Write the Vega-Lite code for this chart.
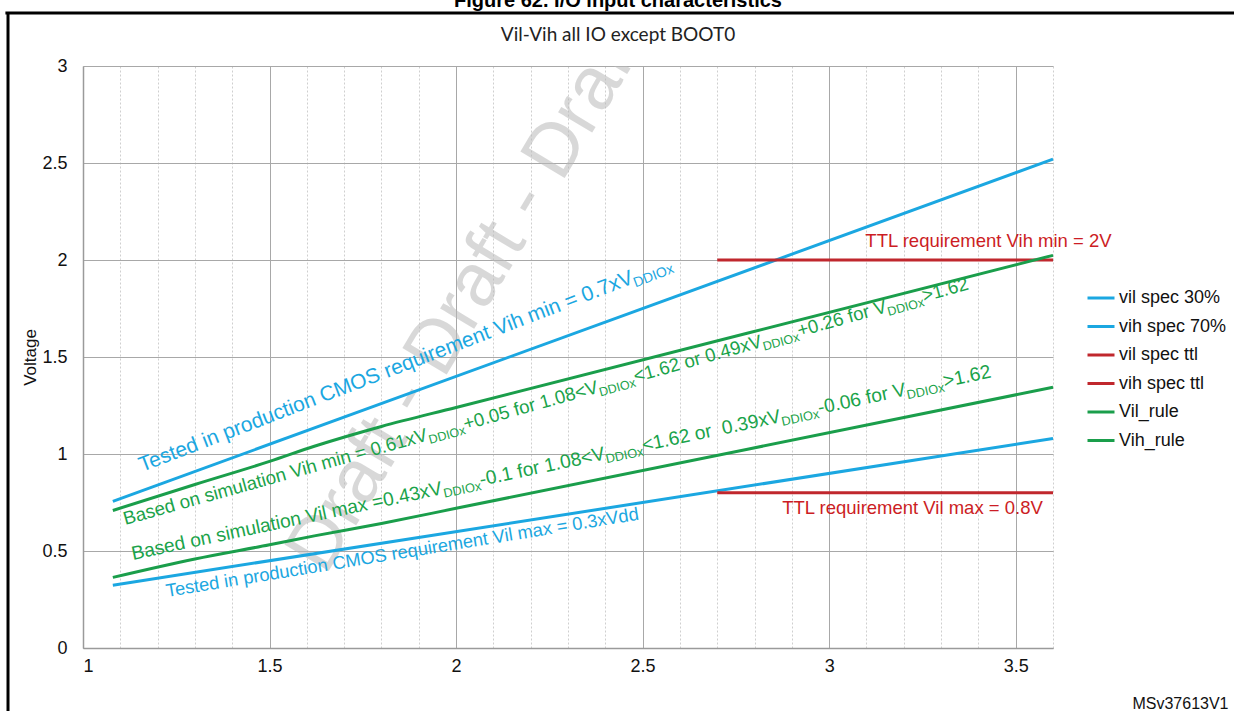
{
  "$schema": "https://vega.github.io/schema/vega-lite/v6.json",
  "autosize": {"type": "none"},
  "width": 970,
  "height": 582,
  "padding": {"left": 83, "top": 66, "right": 181, "bottom": 63},
  "background": "white",
  "title": {
    "text": "Figure 62. I/O input characteristics",
    "subtitle": "Vil-Vih all IO except BOOT0",
    "anchor": "middle",
    "dx": 50,
    "dy": 33,
    "offset": 0,
    "font": "Liberation Sans",
    "fontSize": 20,
    "fontWeight": "bold",
    "color": "#000000",
    "subtitleFont": "Lato",
    "subtitleFontSize": 19,
    "subtitleColor": "#222222",
    "subtitlePadding": 15
  },
  "config": {
    "view": {"stroke": null},
    "font": "Liberation Sans"
  },
  "resolve": {"axis": {"x": "independent"}},
  "datasets": {
    "lines": [
      {"series": "vil spec 30%", "v": 1.08, "volt": 0.324},
      {"series": "vil spec 30%", "v": 3.6, "volt": 1.08},
      {"series": "vih spec 70%", "v": 1.08, "volt": 0.756},
      {"series": "vih spec 70%", "v": 3.6, "volt": 2.52},
      {"series": "vil spec ttl", "v": 2.7, "volt": 0.8},
      {"series": "vil spec ttl", "v": 3.6, "volt": 0.8},
      {"series": "vih spec ttl", "v": 2.7, "volt": 2.0},
      {"series": "vih spec ttl", "v": 3.6, "volt": 2.0},
      {"series": "Vil_rule", "v": 1.08, "volt": 0.364},
      {"series": "Vil_rule", "v": 1.3, "volt": 0.459},
      {"series": "Vil_rule", "v": 1.5, "volt": 0.532},
      {"series": "Vil_rule", "v": 1.62, "volt": 0.578},
      {"series": "Vil_rule", "v": 1.8, "volt": 0.642},
      {"series": "Vil_rule", "v": 2.0, "volt": 0.72},
      {"series": "Vil_rule", "v": 3.6, "volt": 1.344},
      {"series": "Vih_rule", "v": 1.08, "volt": 0.709},
      {"series": "Vih_rule", "v": 1.3, "volt": 0.843},
      {"series": "Vih_rule", "v": 1.5, "volt": 0.962},
      {"series": "Vih_rule", "v": 1.62, "volt": 1.04},
      {"series": "Vih_rule", "v": 1.8, "volt": 1.142},
      {"series": "Vih_rule", "v": 2.0, "volt": 1.24},
      {"series": "Vih_rule", "v": 3.6, "volt": 2.024}
    ]
  },
  "layer": [
    {
      "data": {"values": [{"v": 1.65, "volt": 0.37, "label": "Draft - Draft - Draft - Draft"}]},
      "mark": {"type": "text", "angle": -59, "align": "left", "baseline": "alphabetic", "fontSize": 75, "color": "#bababa", "opacity": 0.55, "clip": true},
      "encoding": {
        "x": {
          "field": "v",
          "type": "quantitative",
          "scale": {"domain": [1, 3.6], "nice": false, "zero": false},
          "axis": {
            "orient": "bottom",
            "values": [1.1, 1.2, 1.3, 1.4, 1.6, 1.7, 1.8, 1.9, 2.1, 2.2, 2.3, 2.4, 2.6, 2.7, 2.8, 2.9, 3.1, 3.2, 3.3, 3.4, 3.6],
            "labels": false,
            "ticks": false,
            "domain": false,
            "grid": true,
            "gridColor": "#cfcfcf",
            "gridDash": [2, 2],
            "gridWidth": 1,
            "title": null
          }
        },
        "y": {"field": "volt", "type": "quantitative"},
        "text": {"field": "label"}
      }
    },
    {
      "data": {"name": "lines"},
      "mark": {"type": "line", "strokeWidth": 3, "strokeCap": "butt", "interpolate": "monotone"},
      "encoding": {
        "x": {
          "field": "v",
          "type": "quantitative",
          "axis": {
            "orient": "bottom",
            "values": [1, 1.5, 2, 2.5, 3, 3.5],
            "format": "~g",
            "labelOverlap": false,
            "labelFlush": false,
            "labelAlign": {"condition": {"test": "datum.value == 1", "value": "left"}, "value": "center"},
            "labelFontSize": 18,
            "labelColor": "#111111",
            "labelPadding": 9,
            "ticks": false,
            "domain": true,
            "domainColor": "#9a9a9a",
            "domainWidth": 1.5,
            "grid": true,
            "gridColor": "#a8a8a8",
            "gridWidth": 1,
            "title": "MSv37613V1",
            "titleFontSize": 16,
            "titleFontWeight": "normal",
            "titleColor": "#111111",
            "titleX": 1145,
            "titleY": 55,
            "titleAlign": "right",
            "titleBaseline": "middle"
          }
        },
        "y": {
          "field": "volt",
          "type": "quantitative",
          "scale": {"domain": [0, 3], "nice": false},
          "axis": {
            "values": [0, 0.5, 1, 1.5, 2, 2.5, 3],
            "format": "~g",
            "labelFontSize": 18,
            "labelColor": "#111111",
            "labelPadding": 16,
            "labelFlush": false,
            "ticks": false,
            "domain": true,
            "domainColor": "#9a9a9a",
            "domainWidth": 1.5,
            "grid": true,
            "gridColor": "#a8a8a8",
            "gridWidth": 1,
            "title": "Voltage",
            "titleFontSize": 17,
            "titleFontWeight": "normal",
            "titleColor": "#111111",
            "titleX": -44,
            "titleY": 291,
            "titleAngle": -90
          }
        },
        "color": {
          "field": "series",
          "type": "nominal",
          "scale": {
            "domain": ["vil spec 30%", "vih spec 70%", "vil spec ttl", "vih spec ttl", "Vil_rule", "Vih_rule"],
            "range": ["#1ba7e1", "#1ba7e1", "#c0272d", "#c0272d", "#1a9e4b", "#1a9e4b"]
          },
          "legend": {
            "orient": "none",
            "legendX": 1003,
            "legendY": 217,
            "title": null,
            "symbolType": "stroke",
            "symbolSize": 729,
            "symbolStrokeWidth": 3,
            "labelFontSize": 18,
            "labelColor": "#111111",
            "labelOffset": 3,
            "rowPadding": 4.5,
            "padding": 0
          }
        },
        "detail": {"field": "series"}
      }
    },
    {
      "data": {"values": [{"v": 1.158, "volt": 0.907, "label": "Tested in production CMOS requirement Vih min = 0.7xV"}]},
      "mark": {"type": "text", "angle": -21, "align": "left", "baseline": "alphabetic", "fontSize": 21, "color": "#1ba7e1"},
      "encoding": {"x": {"field": "v", "type": "quantitative", "axis": null}, "y": {"field": "volt", "type": "quantitative"}, "text": {"field": "label"}}
    },
    {
      "data": {"values": [{"v": 1.158, "volt": 0.907, "label": "DDIOx"}]},
      "mark": {"type": "text", "angle": -21, "align": "left", "baseline": "alphabetic", "fontSize": 14, "dx": 527, "dy": 4.5, "color": "#1ba7e1"},
      "encoding": {"x": {"field": "v", "type": "quantitative", "axis": null}, "y": {"field": "volt", "type": "quantitative"}, "text": {"field": "label"}}
    },
    {
      "data": {"values": [{"v": 1.113, "volt": 0.634, "label": "Based on simulation Vih min = 0.61xV"}]},
      "mark": {"type": "text", "angle": -15.6, "align": "left", "baseline": "alphabetic", "fontSize": 18.7, "color": "#1aa34a"},
      "encoding": {"x": {"field": "v", "type": "quantitative", "axis": null}, "y": {"field": "volt", "type": "quantitative"}, "text": {"field": "label"}}
    },
    {
      "data": {"values": [{"v": 1.113, "volt": 0.634, "label": "DDIOx"}]},
      "mark": {"type": "text", "angle": -15.6, "align": "left", "baseline": "alphabetic", "fontSize": 12.5, "dx": 315.5, "dy": 4, "color": "#1aa34a"},
      "encoding": {"x": {"field": "v", "type": "quantitative", "axis": null}, "y": {"field": "volt", "type": "quantitative"}, "text": {"field": "label"}}
    },
    {
      "data": {"values": [{"v": 1.113, "volt": 0.634, "label": "+0.05 for 1.08<V"}]},
      "mark": {"type": "text", "angle": -15.6, "align": "left", "baseline": "alphabetic", "fontSize": 18.7, "dx": 353, "color": "#1aa34a"},
      "encoding": {"x": {"field": "v", "type": "quantitative", "axis": null}, "y": {"field": "volt", "type": "quantitative"}, "text": {"field": "label"}}
    },
    {
      "data": {"values": [{"v": 1.113, "volt": 0.634, "label": "DDIOx"}]},
      "mark": {"type": "text", "angle": -15.6, "align": "left", "baseline": "alphabetic", "fontSize": 12.5, "dx": 492.3, "dy": 4, "color": "#1aa34a"},
      "encoding": {"x": {"field": "v", "type": "quantitative", "axis": null}, "y": {"field": "volt", "type": "quantitative"}, "text": {"field": "label"}}
    },
    {
      "data": {"values": [{"v": 1.113, "volt": 0.634, "label": "<1.62 or 0.49xV"}]},
      "mark": {"type": "text", "angle": -15.6, "align": "left", "baseline": "alphabetic", "fontSize": 18.7, "dx": 529.8, "color": "#1aa34a"},
      "encoding": {"x": {"field": "v", "type": "quantitative", "axis": null}, "y": {"field": "volt", "type": "quantitative"}, "text": {"field": "label"}}
    },
    {
      "data": {"values": [{"v": 1.113, "volt": 0.634, "label": "DDIOx"}]},
      "mark": {"type": "text", "angle": -15.6, "align": "left", "baseline": "alphabetic", "fontSize": 12.5, "dx": 662.3, "dy": 4, "color": "#1aa34a"},
      "encoding": {"x": {"field": "v", "type": "quantitative", "axis": null}, "y": {"field": "volt", "type": "quantitative"}, "text": {"field": "label"}}
    },
    {
      "data": {"values": [{"v": 1.113, "volt": 0.634, "label": "+0.26 for V"}]},
      "mark": {"type": "text", "angle": -15.6, "align": "left", "baseline": "alphabetic", "fontSize": 18.7, "dx": 699.8, "color": "#1aa34a"},
      "encoding": {"x": {"field": "v", "type": "quantitative", "axis": null}, "y": {"field": "volt", "type": "quantitative"}, "text": {"field": "label"}}
    },
    {
      "data": {"values": [{"v": 1.113, "volt": 0.634, "label": "DDIOx"}]},
      "mark": {"type": "text", "angle": -15.6, "align": "left", "baseline": "alphabetic", "fontSize": 12.5, "dx": 791.8, "dy": 4, "color": "#1aa34a"},
      "encoding": {"x": {"field": "v", "type": "quantitative", "axis": null}, "y": {"field": "volt", "type": "quantitative"}, "text": {"field": "label"}}
    },
    {
      "data": {"values": [{"v": 1.113, "volt": 0.634, "label": ">1.62"}]},
      "mark": {"type": "text", "angle": -15.6, "align": "left", "baseline": "alphabetic", "fontSize": 18.7, "dx": 829.3, "color": "#1aa34a"},
      "encoding": {"x": {"field": "v", "type": "quantitative", "axis": null}, "y": {"field": "volt", "type": "quantitative"}, "text": {"field": "label"}}
    },
    {
      "data": {"values": [{"v": 1.134, "volt": 0.454, "label": "Based on simulation Vil max =0.43xV"}]},
      "mark": {"type": "text", "angle": -12, "align": "left", "baseline": "alphabetic", "fontSize": 19.2, "color": "#1aa34a"},
      "encoding": {"x": {"field": "v", "type": "quantitative", "axis": null}, "y": {"field": "volt", "type": "quantitative"}, "text": {"field": "label"}}
    },
    {
      "data": {"values": [{"v": 1.134, "volt": 0.454, "label": "DDIOx"}]},
      "mark": {"type": "text", "angle": -12, "align": "left", "baseline": "alphabetic", "fontSize": 12.8, "dx": 317.5, "dy": 4, "color": "#1aa34a"},
      "encoding": {"x": {"field": "v", "type": "quantitative", "axis": null}, "y": {"field": "volt", "type": "quantitative"}, "text": {"field": "label"}}
    },
    {
      "data": {"values": [{"v": 1.134, "volt": 0.454, "label": "-0.1 for 1.08<V"}]},
      "mark": {"type": "text", "angle": -12, "align": "left", "baseline": "alphabetic", "fontSize": 19.2, "dx": 355.9, "color": "#1aa34a"},
      "encoding": {"x": {"field": "v", "type": "quantitative", "axis": null}, "y": {"field": "volt", "type": "quantitative"}, "text": {"field": "label"}}
    },
    {
      "data": {"values": [{"v": 1.134, "volt": 0.454, "label": "DDIOx"}]},
      "mark": {"type": "text", "angle": -12, "align": "left", "baseline": "alphabetic", "fontSize": 12.8, "dx": 483.4, "dy": 4, "color": "#1aa34a"},
      "encoding": {"x": {"field": "v", "type": "quantitative", "axis": null}, "y": {"field": "volt", "type": "quantitative"}, "text": {"field": "label"}}
    },
    {
      "data": {"values": [{"v": 1.134, "volt": 0.454, "label": "<1.62 or\u00a0 0.39xV"}]},
      "mark": {"type": "text", "angle": -12, "align": "left", "baseline": "alphabetic", "fontSize": 19.2, "dx": 521.8, "color": "#1aa34a"},
      "encoding": {"x": {"field": "v", "type": "quantitative", "axis": null}, "y": {"field": "volt", "type": "quantitative"}, "text": {"field": "label"}}
    },
    {
      "data": {"values": [{"v": 1.134, "volt": 0.454, "label": "DDIOx"}]},
      "mark": {"type": "text", "angle": -12, "align": "left", "baseline": "alphabetic", "fontSize": 12.8, "dx": 663.2, "dy": 4, "color": "#1aa34a"},
      "encoding": {"x": {"field": "v", "type": "quantitative", "axis": null}, "y": {"field": "volt", "type": "quantitative"}, "text": {"field": "label"}}
    },
    {
      "data": {"values": [{"v": 1.134, "volt": 0.454, "label": "-0.06 for V"}]},
      "mark": {"type": "text", "angle": -12, "align": "left", "baseline": "alphabetic", "fontSize": 19.2, "dx": 701.6, "color": "#1aa34a"},
      "encoding": {"x": {"field": "v", "type": "quantitative", "axis": null}, "y": {"field": "volt", "type": "quantitative"}, "text": {"field": "label"}}
    },
    {
      "data": {"values": [{"v": 1.134, "volt": 0.454, "label": "DDIOx"}]},
      "mark": {"type": "text", "angle": -12, "align": "left", "baseline": "alphabetic", "fontSize": 12.8, "dx": 791.2, "dy": 4, "color": "#1aa34a"},
      "encoding": {"x": {"field": "v", "type": "quantitative", "axis": null}, "y": {"field": "volt", "type": "quantitative"}, "text": {"field": "label"}}
    },
    {
      "data": {"values": [{"v": 1.134, "volt": 0.454, "label": ">1.62"}]},
      "mark": {"type": "text", "angle": -12, "align": "left", "baseline": "alphabetic", "fontSize": 19.2, "dx": 829.6, "color": "#1aa34a"},
      "encoding": {"x": {"field": "v", "type": "quantitative", "axis": null}, "y": {"field": "volt", "type": "quantitative"}, "text": {"field": "label"}}
    },
    {
      "data": {"values": [{"v": 1.225, "volt": 0.263, "label": "Tested in production CMOS requirement Vil max = 0.3xVdd"}]},
      "mark": {"type": "text", "angle": -9.3, "align": "left", "baseline": "alphabetic", "fontSize": 18.3, "color": "#1ba7e1"},
      "encoding": {"x": {"field": "v", "type": "quantitative", "axis": null}, "y": {"field": "volt", "type": "quantitative"}, "text": {"field": "label"}}
    },
    {
      "data": {"values": [
        {"v": 3.097, "volt": 2.098, "label": "TTL requirement Vih min = 2V"},
        {"v": 2.874, "volt": 0.722, "label": "TTL requirement Vil max = 0.8V"}
      ]},
      "mark": {"type": "text", "align": "left", "baseline": "middle", "fontSize": 18.5, "color": "#cc1d24"},
      "encoding": {"x": {"field": "v", "type": "quantitative", "axis": null}, "y": {"field": "volt", "type": "quantitative"}, "text": {"field": "label"}}
    },
    {
      "data": {"values": [{"v": 0.799, "volt": -0.4, "v2": 0.799, "volt2": 3.273}, {"v": 0.792, "volt": 3.273, "v2": 4.2, "volt2": 3.273}]},
      "mark": {"type": "rule", "color": "#000000", "strokeWidth": 3},
      "encoding": {"x": {"field": "v", "type": "quantitative", "axis": null}, "y": {"field": "volt", "type": "quantitative"}, "x2": {"field": "v2"}, "y2": {"field": "volt2"}}
    }
  ]
}
